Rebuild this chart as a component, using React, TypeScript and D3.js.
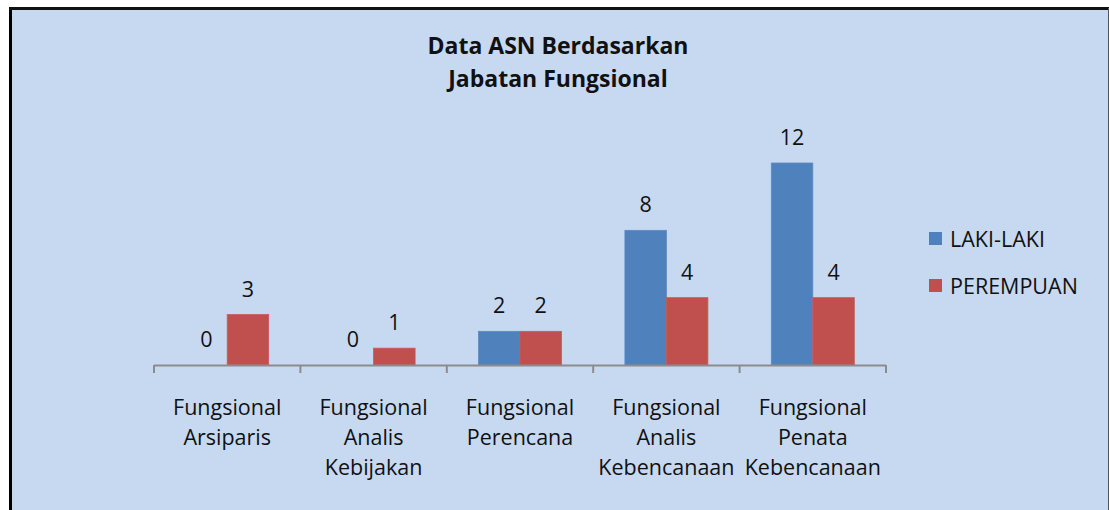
import React from 'react';
import * as d3 from 'd3';

// Chart data
const categories = [
  ['Fungsional', 'Arsiparis'],
  ['Fungsional', 'Analis', 'Kebijakan'],
  ['Fungsional', 'Perencana'],
  ['Fungsional', 'Analis', 'Kebencanaan'],
  ['Fungsional', 'Penata', 'Kebencanaan'],
];
const seriesNames = ['LAKI-LAKI', 'PEREMPUAN'];
const lakiLaki = [0, 0, 2, 8, 12];
const perempuan = [3, 1, 2, 4, 4];
const titleLines = ['Data ASN Berdasarkan', 'Jabatan Fungsional'];

const colors = ['#4F81BD', '#C0504D'];
const font = '"Open Sans", sans-serif';
const fs = 21.5;

const App = () => {
  const width = 1109;
  const height = 510;
  const plot = { left: 154, right: 886, baseline: 365, top: 163 };

  const keys = categories.map((c) => c.join(' '));
  const values = [lakiLaki, perempuan];

  const x0 = d3.scaleBand().domain(keys).range([plot.left, plot.right]).paddingInner(0).paddingOuter(0);
  const x1 = d3
    .scaleBand()
    .domain(seriesNames)
    .range([0, x0.bandwidth()])
    .paddingInner(0)
    .paddingOuter(0.764);
  const y = d3.scaleLinear().domain([0, 12]).range([plot.baseline, plot.top]);

  const ticks = [...keys.map((k) => x0(k) as number), plot.right];

  return (
    <svg
      width={width}
      height={height}
      style={{ position: 'absolute', left: 0, top: 0, display: 'block' }}
    >
      {/* frame */}
      <rect x={0} y={0} width={width} height={height} fill="#ffffff" />
      <rect x={10} y={8} width={1098} height={height} fill="#C6D9F1" />
      <line x1={10.5} y1={8} x2={10.5} y2={height} stroke="#000" strokeWidth={3} />
      <line x1={9} y1={8.5} x2={1109} y2={8.5} stroke="#111" strokeWidth={3} />
      <line x1={1108.5} y1={8} x2={1108.5} y2={height} stroke="#555" strokeWidth={1} />

      {/* title */}
      {titleLines.map((t, i) => (
        <text
          key={t}
          x={558}
          y={54 + i * 33}
          textAnchor="middle"
          fontFamily={font}
          fontWeight="bold"
          fontSize={23}
          fill="#111"
        >
          {t}
        </text>
      ))}

      {/* bars */}
      {keys.map((k, ci) => (
        <g key={k} transform={`translate(${x0(k)},0)`}>
          {seriesNames.map((s, si) => {
            const v = values[si][ci];
            const bx = x1(s) as number;
            return (
              <g key={s}>
                {v > 0 && (
                  <rect
                    x={bx}
                    y={y(v)}
                    width={x1.bandwidth()}
                    height={y(0) - y(v)}
                    fill={colors[si]}
                    stroke={si === 0 ? '#5A8AC6' : '#C85A57'}
                    strokeWidth={0.8}
                  />
                )}
                <text
                  x={bx + x1.bandwidth() / 2}
                  y={y(v) - 18}
                  textAnchor="middle"
                  fontFamily={font}
                  fontSize={fs}
                  fill="#111"
                >
                  {v}
                </text>
              </g>
            );
          })}
        </g>
      ))}

      {/* category axis */}
      <line x1={plot.left} y1={plot.baseline + 0.5} x2={plot.right} y2={plot.baseline + 0.5} stroke="#8C8C8C" strokeWidth={2} />
      {ticks.map((t, i) => (
        <line key={i} x1={t} y1={plot.baseline} x2={t} y2={plot.baseline + 8} stroke="#8C8C8C" strokeWidth={2} />
      ))}
      {categories.map((lines, ci) => (
        <text
          key={ci}
          textAnchor="middle"
          fontFamily={font}
          fontSize={fs}
          fill="#111"
        >
          {lines.map((l, li) => (
            <tspan key={li} x={(x0(keys[ci]) as number) + x0.bandwidth() / 2} y={415 + li * 30}>
              {l}
            </tspan>
          ))}
        </text>
      ))}

      {/* legend */}
      {seriesNames.map((s, i) => (
        <g key={s} transform={`translate(929,${232 + i * 47})`}>
          <rect x={0} y={0} width={13} height={13} fill={colors[i]} />
          <text x={21} y={15} fontFamily={font} fontSize={fs} fill="#111">
            {s}
          </text>
        </g>
      ))}
    </svg>
  );
};

export default App;
